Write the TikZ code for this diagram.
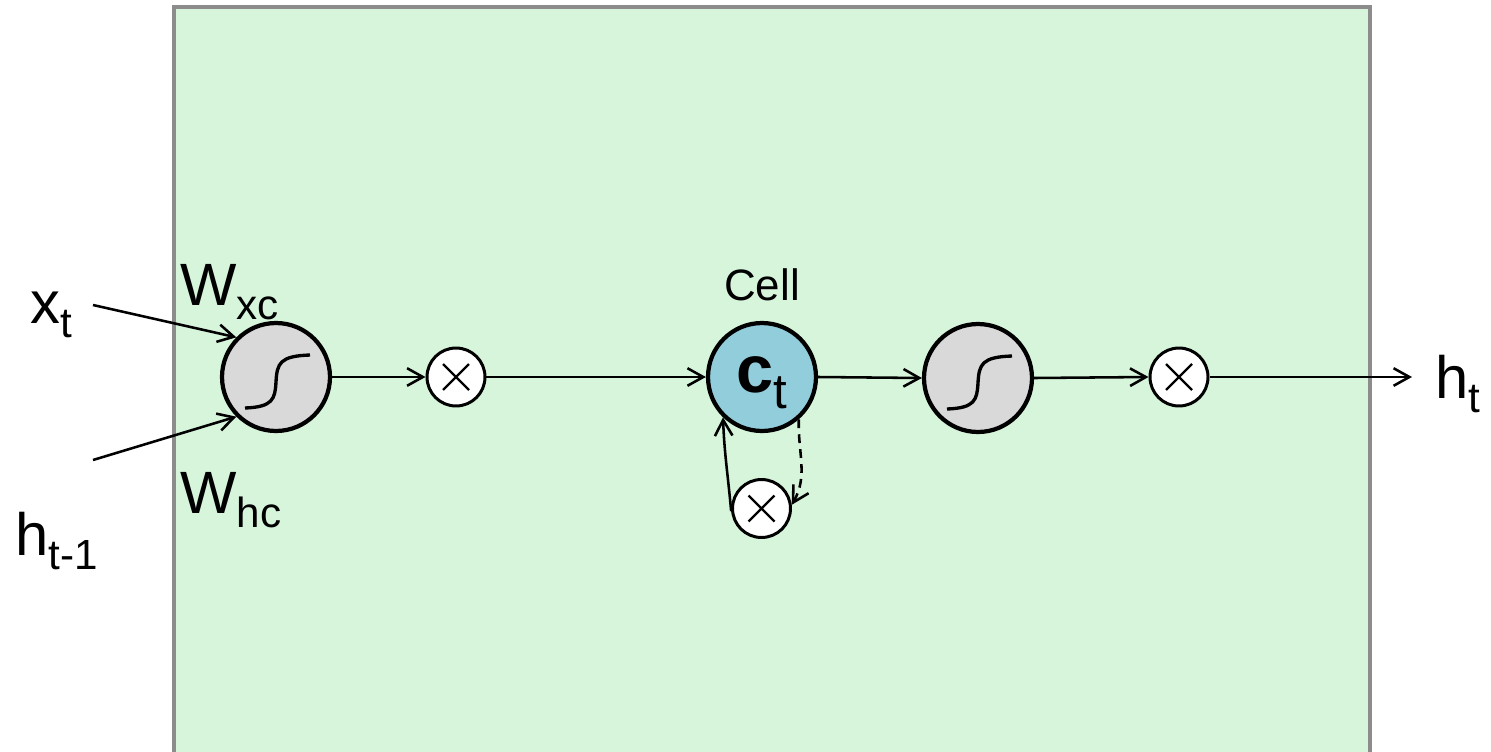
\documentclass[tikz,border=0pt]{standalone}
\usepackage{fontspec}
\setmainfont{Liberation Sans}
\usetikzlibrary{arrows.meta}
\definecolor{boxgreen}{HTML}{D6F5DB}
\definecolor{boxborder}{HTML}{8C8C8C}
\definecolor{siggrey}{HTML}{D9D9D9}
\definecolor{cellblue}{HTML}{92CDDC}
\newcommand\subtxt[2][24]{\raisebox{-0.25em}{\fontsize{#1}{#1}\selectfont #2}}
\newcommand\sigcurve[1]{\draw[line width=1.9pt, shift={(#1)}] (-31,-31) .. controls (-3,-30) and (-1,-22) .. (0,-5) .. controls (1,14) and (4,21) .. (34,22);}
\begin{document}
\begin{tikzpicture}[x=0.02cm,y=0.02cm,
  sig/.style={circle, draw=black, line width=2.4pt, fill=siggrey, minimum size=2.16cm, inner sep=0pt},
  cellnode/.style={circle, draw=black, line width=2.4pt, fill=cellblue, minimum size=2.16cm, inner sep=0pt},
  mult/.style={circle, draw=black, line width=1.7pt, fill=white, minimum size=1.16cm, inner sep=0pt,
    path picture={\draw[line width=1.3pt] (path picture bounding box.center) ++(-0.26cm,-0.26cm) -- ++(0.52cm,0.52cm)
      (path picture bounding box.center) ++(-0.26cm,0.26cm) -- ++(0.52cm,-0.52cm);}},
  conn/.style={-{Straight Barb[length=9pt,width=10pt]}, line width=1.45pt},
  bigtxt/.style={font=\fontsize{34}{34}\selectfont, inner sep=0pt}]
\useasboundingbox (0,0) rectangle (1491,-751);
\draw[fill=boxgreen, draw=boxborder, line width=2.2pt] (174,-7) rectangle (1370,-770);

\node[sig] (s1) at (276,-377) {};
\node[mult] (m1) at (456,-377) {};
\node[cellnode] (ct) at (762,-377) {};
\node[sig] (s2) at (978,-378) {};
\node[mult] (m2) at (1179,-377) {};
\node[mult] (bm) at (761.5,-508.5) {};

\sigcurve{s1.center}
\sigcurve{s2.center}

\node[anchor=base, font=\fontsize{38}{38}\selectfont\bfseries, inner sep=0pt] (ctlabel) at (762,-392) {c\subtxt[28]{\mdseries t}};
\node[anchor=base, font=\fontsize{25}{25}\selectfont, inner sep=0pt] (celllabel) at (762,-300) {Cell};

\node[bigtxt, anchor=base west] (lx) at (30,-323) {x\subtxt{t}};
\node[bigtxt, anchor=base west] (lwxc) at (180,-305) {W\subtxt{xc}};
\node[bigtxt, anchor=base west] (lwhc) at (180,-513) {W\subtxt{hc}};
\node[bigtxt, anchor=base west] (lh) at (15,-555) {h\subtxt{t-1}};
\node[bigtxt, anchor=base west] (lht) at (1435,-398) {h\subtxt{t}};

\coordinate (xin) at (93,-305);
\coordinate (hin) at (93,-460);
\coordinate (hout) at (1412,-377);

\draw[conn] (xin) -- (s1.135);
\draw[conn] (hin) -- (s1.225);
\draw[conn] (s1.east) -- (m1.west);
\draw[conn] (m1.east) -- (ct.west);
\draw[conn] (ct.east) -- (s2.west);
\draw[conn] (s2.east) -- (m2.west);
\draw[conn] (m2.east) -- (hout);
\draw[conn] (bm.185) to[out=95,in=-88] (ct.226);
\draw[conn, dash pattern=on 5pt off 3.5pt] (ct.-49) to[out=-92,in=60] (bm.7);
\end{tikzpicture}
\end{document}
